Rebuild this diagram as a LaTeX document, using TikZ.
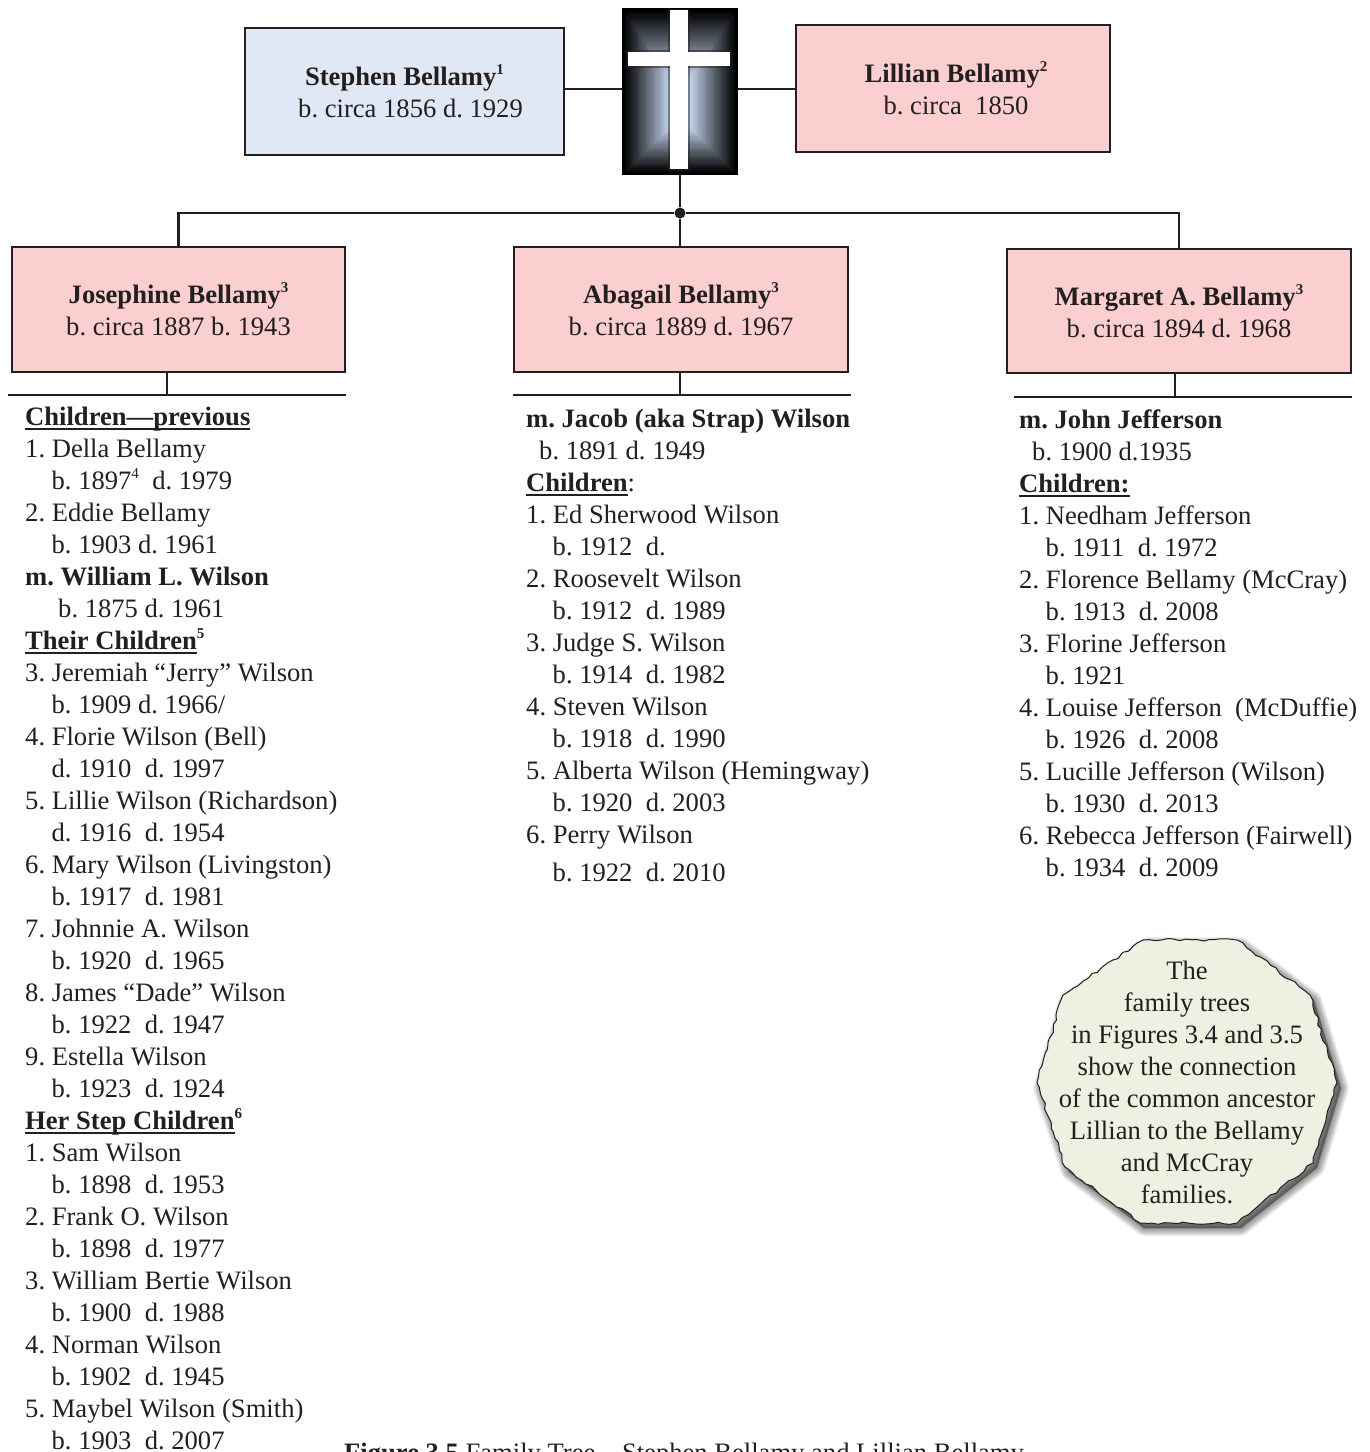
\documentclass[tikz,border=0pt]{standalone}
\usepackage{fontspec}
\setmainfont{Liberation Serif}
\usetikzlibrary{decorations.pathmorphing}
\definecolor{ink}{HTML}{231F20}
\definecolor{rose}{HTML}{FBCFD0}
\definecolor{pale}{HTML}{E1E8F5}
\definecolor{sage}{HTML}{EDF1E2}
\definecolor{glow}{HTML}{C8D9F2}
\tikzset{person/.style = {draw = ink, line width = 2.8, fill = rose, align = center,
                          text = ink, inner sep = 0, font = \fontsize{26.6}{32}\selectfont}}
\tikzset{roster/.style = {anchor = north west, align = left, text = ink, inner sep = 0,
                          font = \fontsize{26.6}{32}\selectfont}}
\tikzset{link/.style = {draw = ink, line width = 2.8}}
\tikzset{circ/.style = {fill = ink, circle, inner sep = 0, minimum size = 11}}
\frenchspacing
\newsavebox{\hdbox}
\newcommand{\ind}{\hspace*{26.5pt}}
\newcommand{\hd}[1]{\sbox{\hdbox}{\textbf{#1}}\rlap{\rule[-4pt]{\wd\hdbox}{1.8pt}}\usebox{\hdbox}}
\newcommand{\sm}[1]{\raisebox{.42em}{\fontsize{15}{15}\selectfont #1}}
\newcommand{\up}[1]{\sm{\textbf{#1}}}
\newcommand{\drop}[1]{\rule{0pt}{#1pt}}
\begin{document}
\begin{tikzpicture}[x=1pt, y=-1pt]
  \useasboundingbox (0, 0) rectangle (1369, 1452);

  \node [person, fill = pale, minimum width = 319, minimum height = 127] (stephen) at (404.5, 91.5)
    {\drop{17.4}\textbf{Stephen Bellamy\up{1}}\\\hspace*{12pt}b. circa 1856 d. 1929};
  \node [person, minimum width = 314, minimum height = 127] (lillian) at (953, 88.5)
    {\drop{19.4}\hspace*{6pt}\textbf{Lillian Bellamy\up{2}}\\\hspace*{6pt}b. circa~~1850};
  \node [person, minimum width = 333, minimum height = 125] (josephine) at (178.5, 309.5)
    {\drop{17.4}\textbf{Josephine Bellamy\up{3}}\\b. circa 1887 b. 1943};
  \node [person, minimum width = 334, minimum height = 125] (abagail) at (681, 309.5)
    {\drop{17.4}\textbf{Abagail Bellamy\up{3}}\\b. circa 1889 d. 1967};
  \node [person, minimum width = 344, minimum height = 124] (margaret) at (1179, 311)
    {\drop{21.4}\textbf{Margaret A. Bellamy\up{3}}\\b. circa 1894 d. 1968};

  \node [fill = black, minimum width = 116, minimum height = 167, inner sep = 0] (cross) at (680, 91.5) {};
  \foreach \i in {0, ..., 40} {
    \pgfmathsetmacro\pct{100*(\i/40)^1.05}
    \fill [glow!\pct!black] (624+\i*1.15, 10+\i*1.7) rectangle (736-\i*1.15, 173-\i*1.15);
  }
  \fill [ink, opacity = .5] (668, 9) rectangle (690, 171);
  \fill [ink, opacity = .5] (626, 50) rectangle (732, 68);
  \fill [white] (670, 10) rectangle (688, 169);
  \fill [white] (628, 52) rectangle (730, 66);

  \coordinate (tie) at (680, 89);
  \draw [link] (tie -| stephen.east) -- (tie -| cross.west);
  \draw [link] (tie -| cross.east) -- (tie -| lillian.west);

  \node [circ] (dot) at (680, 213) {};
  \draw [link] (cross.south) -- (dot);
  \draw [link] (josephine.north) |- (dot) -| (margaret.north);
  \draw [link] (dot) -- (dot |- abagail.north);

  \coordinate (jstub) at (167, 395);
  \coordinate (jleft) at (8, 395);
  \coordinate (jright) at (346, 395);
  \draw [link] (jstub |- josephine.south) -- (jstub);
  \draw [link] (jleft) -- (jright);

  \coordinate (astub) at (680, 395);
  \coordinate (aleft) at (513, 395);
  \coordinate (aright) at (851, 395);
  \draw [link] (astub |- abagail.south) -- (astub);
  \draw [link] (aleft) -- (aright);

  \coordinate (mstub) at (1175, 397);
  \coordinate (mleft) at (1014, 397);
  \coordinate (mright) at (1352, 397);
  \draw [link] (mstub |- margaret.south) -- (mstub);
  \draw [link] (mleft) -- (mright);

  \node [roster] (jlist) at (25, 407) {
    \hd{Children—previous}\\
    1. Della Bellamy\\
    \ind b. 1897\sm{4}~~d. 1979\\
    2. Eddie Bellamy\\
    \ind b. 1903 d. 1961\\
    \textbf{m. William L. Wilson}\\
    \hspace*{33pt}b. 1875 d. 1961\\
    \hd{Their Children}\up{5}\\
    3. Jeremiah “Jerry” Wilson\\
    \ind b. 1909 d. 1966/\\
    4. Florie Wilson (Bell)\\
    \ind d. 1910~~d. 1997\\
    5. Lillie Wilson (Richardson)\\
    \ind d. 1916~~d. 1954\\
    6. Mary Wilson (Livingston)\\
    \ind b. 1917~~d. 1981\\
    7. Johnnie A. Wilson\\
    \ind b. 1920~~d. 1965\\
    8. James “Dade” Wilson\\
    \ind b. 1922~~d. 1947\\
    9. Estella Wilson\\
    \ind b. 1923~~d. 1924\\
    \hd{Her Step Children}\up{6}\\
    1. Sam Wilson\\
    \ind b. 1898~~d. 1953\\
    2. Frank O. Wilson\\
    \ind b. 1898~~d. 1977\\
    3. William Bertie Wilson\\
    \ind b. 1900~~d. 1988\\
    4. Norman Wilson\\
    \ind b. 1902~~d. 1945\\
    5. Maybel Wilson (Smith)\\
    \ind b. 1903~~d. 2007};

  \node [roster] (alist) at (526, 409) {
    \textbf{m. Jacob (aka Strap) Wilson}\\
    \hspace*{13pt}b. 1891 d. 1949\\
    \hd{Children}:\\
    1. Ed Sherwood Wilson\\
    \ind b. 1912~~d.\\
    2. Roosevelt Wilson\\
    \ind b. 1912~~d. 1989\\
    3. Judge S. Wilson\\
    \ind b. 1914~~d. 1982\\
    4. Steven Wilson\\
    \ind b. 1918~~d. 1990\\
    5. Alberta Wilson (Hemingway)\\
    \ind b. 1920~~d. 2003\\
    6. Perry Wilson\\[6pt]
    \ind b. 1922~~d. 2010};

  \node [roster] (mlist) at (1019, 410) {
    \textbf{m. John Jefferson}\\
    \hspace*{13pt}b. 1900 d.1935\\
    \hd{Children:}\\
    1. Needham Jefferson\\
    \ind b. 1911~~d. 1972\\
    2. Florence Bellamy (McCray)\\
    \ind b. 1913~~d. 2008\\
    3. Florine Jefferson\\
    \ind b. 1921\\
    4. Louise Jefferson~~(McDuffie)\\
    \ind b. 1926~~d. 2008\\
    5. Lucille Jefferson (Wilson)\\
    \ind b. 1930~~d. 2013\\
    6. Rebecca Jefferson (Fairwell)\\
    \ind b. 1934~~d. 2009};

  \foreach \i in {1, ..., 10} {
    \draw [black, opacity = .05, line width = 1.6*\i, line join = round, fill, xshift = 4, yshift = -5]
      (1143, 940) -- (1237, 940) -- (1310, 995) -- (1337, 1083) -- (1313, 1163) -- (1237, 1223)
      -- (1140, 1223) -- (1065, 1167) -- (1037, 1083) -- (1063, 995) -- cycle;
  }
  \pgfmathsetseed{7}
  \draw [ink, fill = sage, line width = 1, decorate,
         decoration = {random steps, segment length = 6, amplitude = 1.5}]
    (1143, 940) -- (1237, 940) -- (1310, 995) -- (1337, 1083) -- (1313, 1163) -- (1237, 1223)
    -- (1140, 1223) -- (1065, 1167) -- (1037, 1083) -- (1063, 995) -- cycle;
  \node [roster, anchor = center, align = center] (note) at (1187, 1082) {
    The\\
    family trees\\
    in Figures 3.4 and 3.5\\
    show the connection\\
    of the common ancestor\\
    Lillian to the Bellamy\\
    and McCray\\
    families.};

  \node [roster, anchor = base west] (caption) at (344, 1461)
    {\textbf{Figure 3.5} Family Tree – Stephen Bellamy and Lillian Bellamy};
\end{tikzpicture}
\end{document}
